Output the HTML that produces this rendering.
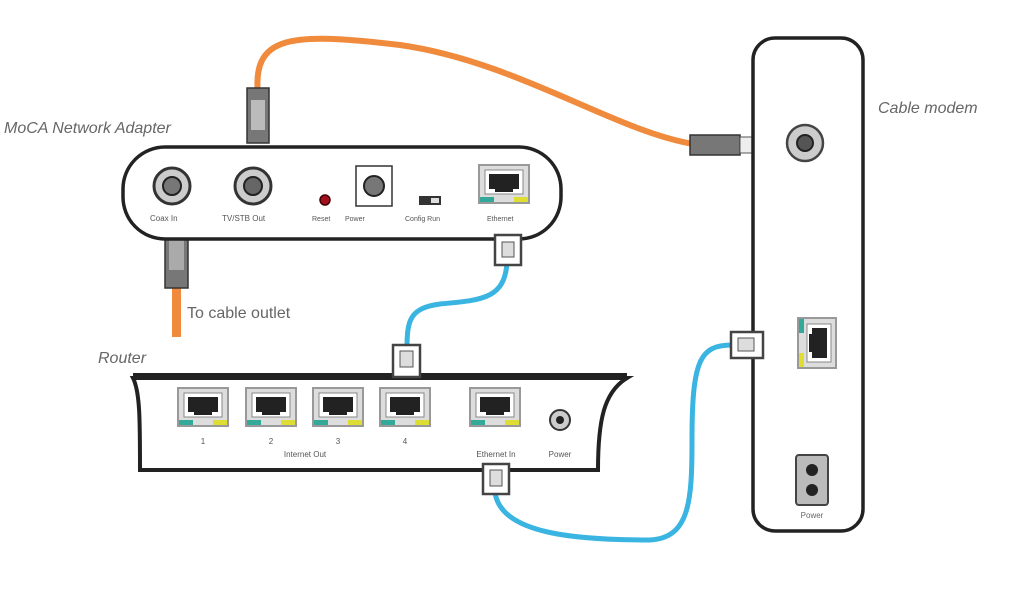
<!DOCTYPE html>
<html><head><meta charset="utf-8"><style>
html,body{margin:0;padding:0;background:#fff;width:1024px;height:600px;overflow:hidden}
svg text{font-family:"Liberation Sans",sans-serif}
</style></head><body>
<svg width="1024" height="600" viewBox="0 0 1024 600" xmlns="http://www.w3.org/2000/svg">
<defs>
<g id="rj">
  <rect x="0" y="0" width="50" height="38" fill="#ddd" stroke="#999" stroke-width="2"/>
  <rect x="6" y="5" width="38" height="24" fill="#fff" stroke="#888"/>
  <path d="M10 9 H40 V24 H34 V27 H16 V24 H10 Z" fill="#222"/>
  <rect x="1" y="32" width="14" height="5" fill="#3a9" />
  <rect x="35" y="32" width="14" height="5" fill="#dd3"/>
</g>
</defs>
<!-- orange coax top -->
<path d="M258 95 C252 35 290 32 400 45 C520 62 620 135 700 145" fill="none" stroke="#f08a3c" stroke-width="6"/>
<rect x="247" y="88" width="22" height="55" fill="#777" stroke="#333" stroke-width="1.5"/>
<rect x="251" y="100" width="14" height="30" fill="#bbb"/>
<rect x="690" y="135" width="50" height="20" fill="#777" stroke="#333" stroke-width="1.5"/>
<rect x="740" y="137" width="20" height="16" fill="#eee" stroke="#555"/>
<!-- lower orange -->
<rect x="172" y="285" width="9" height="52" fill="#f08a3c"/>
<rect x="165" y="226" width="23" height="62" fill="#777" stroke="#333" stroke-width="1.5"/>
<rect x="169" y="240" width="15" height="30" fill="#aaa"/>
<!-- MoCA adapter -->
<rect x="123" y="147" width="438" height="92" rx="42" fill="#fff" stroke="#222" stroke-width="3.5"/>
<circle cx="172" cy="186" r="18" fill="#ccc" stroke="#333" stroke-width="3"/><circle cx="172" cy="186" r="9" fill="#777" stroke="#222" stroke-width="2"/>
<circle cx="253" cy="186" r="18" fill="#ccc" stroke="#333" stroke-width="3"/><circle cx="253" cy="186" r="9" fill="#666" stroke="#222" stroke-width="2"/>
<circle cx="325" cy="200" r="5" fill="#a01020" stroke="#400" stroke-width="1.5"/>
<rect x="356" y="166" width="36" height="40" fill="#fff" stroke="#333" stroke-width="1.5"/>
<circle cx="374" cy="186" r="10" fill="#777" stroke="#222" stroke-width="2"/>
<rect x="419" y="196" width="22" height="9" fill="#333"/><rect x="431" y="198" width="8" height="5" fill="#ddd"/>
<use href="#rj" x="479" y="165"/>
<text x="150" y="221" font-size="8" fill="#555">Coax In</text>
<text x="222" y="221" font-size="8" fill="#555">TV/STB Out</text>
<text x="312" y="221" font-size="7" fill="#555">Reset</text>
<text x="345" y="221" font-size="7" fill="#555">Power</text>
<text x="405" y="221" font-size="7" fill="#555">Config Run</text>
<text x="487" y="221" font-size="7" fill="#555">Ethernet</text>
<text x="4" y="133" font-size="16" font-style="italic" fill="#666">MoCA Network Adapter</text>
<text x="187" y="318" font-size="16" fill="#666">To cable outlet</text>
<!-- blue cables -->
<path d="M507 262 C505 300 480 300 440 304 C410 308 407 320 407 348" fill="none" stroke="#3ab4e0" stroke-width="5"/>
<path d="M495 492 C500 535 580 540 650 540 C690 538 692 500 692 440 C692 360 700 345 732 345" fill="none" stroke="#3ab4e0" stroke-width="5"/>
<!-- modem -->
<rect x="753" y="38" width="110" height="493" rx="22" fill="#fff" stroke="#222" stroke-width="3.5"/>
<circle cx="805" cy="143" r="18" fill="#ccc" stroke="#444" stroke-width="2.5"/><circle cx="805" cy="143" r="8" fill="#555" stroke="#222" stroke-width="2"/>
<g transform="translate(836,318) rotate(90)"><use href="#rj"/></g>
<rect x="796" y="455" width="32" height="50" rx="3" fill="#bbb" stroke="#444" stroke-width="2"/>
<circle cx="812" cy="470" r="6" fill="#222"/><circle cx="812" cy="490" r="6" fill="#222"/>
<text x="812" y="518" font-size="8" fill="#666" text-anchor="middle">Power</text>
<text x="878" y="113" font-size="16" font-style="italic" fill="#666">Cable modem</text>
<!-- connectors blue -->
<rect x="495" y="235" width="26" height="30" fill="#fff" stroke="#444" stroke-width="2.5"/><rect x="502" y="242" width="12" height="15" fill="#ddd" stroke="#555"/>
<rect x="731" y="332" width="32" height="26" fill="#fff" stroke="#444" stroke-width="2.5"/><rect x="738" y="338" width="16" height="13" fill="#ddd" stroke="#555"/>
<!-- router -->
<path d="M133 378 L627 378 C604 392 598 420 598 470 L140 470 C140 420 140 392 133 378 Z" fill="#fff" stroke="#222" stroke-width="4"/>
<rect x="133" y="373" width="494" height="7" fill="#222"/>
<use href="#rj" x="178" y="388"/><use href="#rj" x="246" y="388"/><use href="#rj" x="313" y="388"/><use href="#rj" x="380" y="388"/><use href="#rj" x="470" y="388"/>
<circle cx="560" cy="420" r="10" fill="#ccc" stroke="#333" stroke-width="2"/><circle cx="560" cy="420" r="4" fill="#222"/>
<text x="203" y="444" font-size="8" fill="#555" text-anchor="middle">1</text>
<text x="271" y="444" font-size="8" fill="#555" text-anchor="middle">2</text>
<text x="338" y="444" font-size="8" fill="#555" text-anchor="middle">3</text>
<text x="405" y="444" font-size="8" fill="#555" text-anchor="middle">4</text>
<text x="305" y="457" font-size="8" fill="#555" text-anchor="middle">Internet Out</text>
<text x="496" y="457" font-size="8" fill="#555" text-anchor="middle">Ethernet In</text>
<text x="560" y="457" font-size="8" fill="#555" text-anchor="middle">Power</text>
<text x="98" y="363" font-size="16" font-style="italic" fill="#666">Router</text>
<rect x="393" y="345" width="27" height="32" fill="#fff" stroke="#444" stroke-width="2.5"/><rect x="400" y="351" width="13" height="16" fill="#ddd" stroke="#555"/>
<rect x="483" y="464" width="26" height="30" fill="#fff" stroke="#444" stroke-width="2.5"/><rect x="490" y="470" width="12" height="16" fill="#ddd" stroke="#555"/>
</svg>
</body></html>
